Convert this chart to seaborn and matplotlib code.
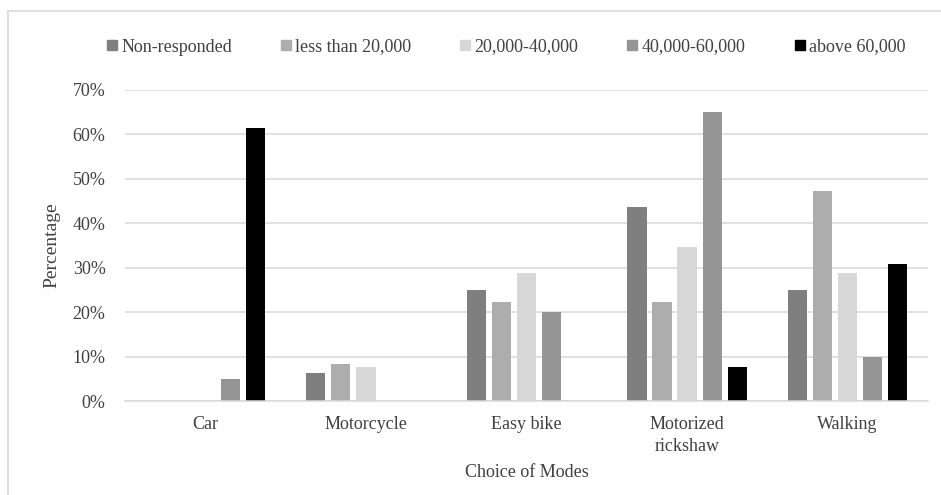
import matplotlib
matplotlib.use("Agg")
import matplotlib.pyplot as plt
from matplotlib.lines import Line2D
from matplotlib.ticker import PercentFormatter
import seaborn as sns
import pandas as pd

# Travel mode choice by monthly income group (percent of respondents)
modes = ["Car", "Motorcycle", "Easy bike", "Motorized\nrickshaw", "Walking"]
income_groups = ["Non-responded", "less than 20,000", "20,000-40,000",
                 "40,000-60,000", "above 60,000"]
non_responded = [0.0, 6.25, 25.0, 43.75, 25.0]
less_than_20k = [0.0, 8.33, 22.22, 22.22, 47.22]
from_20k_to_40k = [0.0, 7.69, 28.85, 34.62, 28.85]
from_40k_to_60k = [5.0, 0.0, 20.0, 65.0, 10.0]
above_60k = [61.54, 0.0, 0.0, 7.69, 30.77]
yticks = [0, 10, 20, 30, 40, 50, 60, 70]

series = [non_responded, less_than_20k, from_20k_to_40k, from_40k_to_60k, above_60k]
colors = ["#7f7f7f", "#adadad", "#d7d7d7", "#959595", "#000000"]

rows = []
for group, vals in zip(income_groups, series):
    for mode, v in zip(modes, vals):
        rows.append({"mode": mode, "income": group, "pct": v})
df = pd.DataFrame(rows)

sns.set_theme(style="white")
plt.rcParams["font.family"] = ["Liberation Serif", "DejaVu Serif"]
text_color = "#404040"

fig = plt.figure(figsize=(9.41, 4.95), dpi=100)
ax = fig.add_axes([125 / 941, 1 - 401 / 495, (928 - 125) / 941, (401 - 90) / 495])

sns.barplot(data=df, x="mode", y="pct", hue="income", order=modes,
            hue_order=income_groups, palette=colors, saturation=1,
            width=0.78, gap=0.23, linewidth=0, ax=ax, legend=False)

ax.set_ylim(0, 70)
ax.set_yticks(yticks)
ax.yaxis.set_major_formatter(PercentFormatter(decimals=0))
ax.grid(axis="y", color="#d9d9d9", linewidth=1.1)
ax.set_axisbelow(True)
for side in ["top", "right", "left"]:
    ax.spines[side].set_visible(False)
ax.spines["bottom"].set_color("#d9d9d9")
ax.spines["bottom"].set_linewidth(1.1)
ax.tick_params(axis="both", length=0, labelsize=13, colors=text_color)
ax.tick_params(axis="y", pad=14)
ax.tick_params(axis="x", pad=11)
for lbl in ax.get_xticklabels():
    lbl.set_linespacing(1.4)

ax.set_xlabel("Choice of Modes", fontsize=13, color=text_color, labelpad=6)
ax.set_ylabel("Percentage", fontsize=14, color=text_color, labelpad=9)

handles = [Line2D([], [], marker="s", linestyle="none", markersize=7,
                  markerfacecolor=c, markeredgecolor=c) for c in colors]
fig.legend(handles, income_groups, loc="center", ncol=5,
           bbox_to_anchor=(505 / 941, 1 - 47 / 495), frameon=False, fontsize=13,
           handletextpad=0.1, columnspacing=2.6, labelcolor=text_color,
           handlelength=0.8)

# chart border
fig.add_artist(Line2D([8 / 941, 8 / 941], [0, 1 - 11 / 495],
                      transform=fig.transFigure, color="#d9d9d9", linewidth=1.2))
fig.add_artist(Line2D([8 / 941, 1], [1 - 11 / 495, 1 - 11 / 495],
                      transform=fig.transFigure, color="#d9d9d9", linewidth=1.2))

fig.savefig("out.png", dpi=100)
